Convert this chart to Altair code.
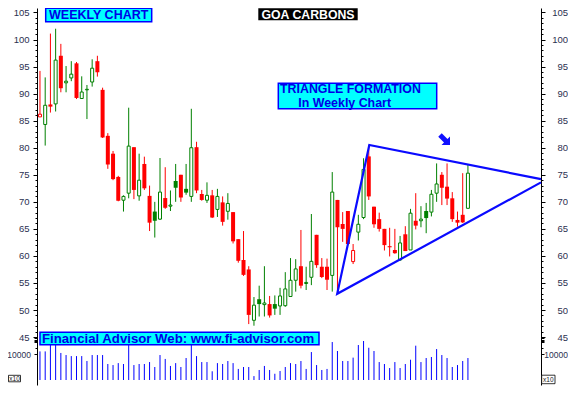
import altair as alt
import pandas as pd

# ---- weekly candles (weeks ending 26 Oct 2012 ... 16 May 2014) ----
week_open = [85.7, 84.3, 88.0, 88.1, 97.0, 92.0, 92.9, 95.6, 89.1, 90.7,
             92.15, 96.0, 90.7, 82.2, 78.9, 74.6, 70.3, 71.6, 80.1, 71.1,
             77.0, 71.1, 68.2, 66.8, 70.7, 69.2, 73.85, 75.0, 72.4, 71.0,
             80.1, 71.45, 70.3, 71.2, 68.6, 69.9, 68.25, 68.1, 63.1, 59.25,
             57.5, 48.1, 52.0, 51.0, 51.1, 51.1, 50.75, 50.8, 52.5, 55.5,
             58.1, 54.9, 56.05, 63.9, 58.0, 58.0, 56.4, 70.35, 65.9, 68.3,
             58.95, 64.4, 67.1, 78.4, 69.1, 66.8, 65.0, 61.8, 61.1, 59.25,
             64.0, 61.1, 66.5, 66.5, 68.3, 68.1, 71.6, 75.0, 72.8, 70.65,
             66.65, 67.6, 68.8]
week_high = [94.2, 93.0, 101.1, 102.0, 99.2, 95.1, 96.0, 95.85, 93.2, 91.6,
             96.35, 97.0, 91.1, 82.7, 79.4, 74.8, 71.2, 87.4, 80.1, 78.9,
             78.35, 73.0, 70.0, 78.1, 76.4, 72.1, 77.0, 75.0, 77.0, 87.2,
             81.1, 72.2, 73.6, 72.2, 72.4, 71.0, 71.6, 68.1, 63.1, 64.6,
             58.1, 52.4, 54.5, 58.1, 52.6, 52.7, 54.1, 57.0, 59.6, 59.4,
             64.8, 58.0, 67.75, 63.9, 59.6, 59.5, 75.5, 70.35, 68.1, 68.3,
             62.2, 67.6, 78.05, 80.5, 69.1, 68.0, 65.0, 65.2, 65.0, 63.7,
             65.5, 68.7, 71.6, 69.2, 69.8, 72.2, 77.1, 75.5, 77.1, 71.8,
             68.2, 75.3, 76.9]
week_low = [85.7, 80.4, 86.5, 86.7, 90.25, 90.25, 92.3, 89.0, 89.1, 85.3,
            91.3, 93.15, 81.8, 76.1, 74.0, 70.1, 68.2, 70.65, 70.5, 70.2,
            72.2, 64.6, 63.4, 66.65, 68.7, 68.3, 70.0, 70.0, 71.3, 70.0,
            71.6, 70.2, 69.8, 67.0, 67.2, 65.6, 66.7, 62.3, 58.75, 56.3,
            47.4, 47.1, 48.8, 48.8, 48.6, 49.1, 49.1, 50.6, 52.5, 53.4,
            54.0, 53.7, 54.6, 57.8, 55.9, 53.7, 53.4, 53.4, 62.6, 62.0,
            58.5, 62.85, 66.8, 70.35, 65.2, 64.5, 61.0, 59.9, 60.4, 59.1,
            60.9, 61.1, 64.9, 65.3, 64.2, 67.3, 70.0, 69.4, 69.4, 66.3,
            65.4, 66.1, 68.8]
week_close = [86.2, 87.85, 87.6, 96.2, 91.0, 92.3, 93.6, 89.2, 90.3, 90.8,
              94.7, 93.95, 81.9, 76.9, 74.2, 70.2, 71.0, 80.3, 72.2, 74.0,
              72.5, 66.15, 66.5, 71.8, 68.9, 69.4, 72.6, 70.8, 71.7, 80.0,
              72.1, 70.35, 71.2, 67.1, 71.0, 66.3, 69.7, 62.7, 59.1, 56.5,
              49.1, 50.9, 51.1, 51.3, 49.0, 50.25, 52.6, 53.9, 55.5, 57.6,
              54.5, 55.1, 59.0, 58.3, 56.1, 55.6, 71.8, 65.3, 65.0, 62.2,
              61.0, 65.85, 76.0, 71.0, 65.85, 65.0, 62.0, 61.6, 60.5, 62.4,
              60.9, 67.9, 65.6, 66.8, 67.0, 71.4, 73.3, 72.6, 70.6, 66.8,
              66.15, 66.2, 75.3]
# g = week closed up on previous week, r = down
week_dir = list("rgrgrggrgg" "grrrrrggrg" "rrggrggrgg" "rrgrgrgrrr" "rgggrggggg"
                "rggrrrgrrr" "rggrrrrrrg" "rgrggggrrr" "rrg")
week_volume = [11000, 11000, 14600, 14600, 10400, 9600, 9200, 9200, 9200, 7300,
               9600, 9600, 9600, 6150, 5750, 6500, 6150, 13450, 5750, 6150,
               6150, 6900, 5000, 9600, 8100, 5400, 6500, 5000, 8450, 14600,
               9200, 6900, 6900, 3350, 6500, 6150, 7300, 6500, 4250, 5000,
               5000, 1500, 3850, 5400, 3850, 2400, 3450, 5000, 6500, 6150,
               7300, 4250, 10750, 5750, 3850, 4250, 14600, 11150, 7300, 7300,
               8600, 13450, 15000, 12400, 11150, 6900, 6150, 4600, 6900, 4600,
               6150, 7800, 13200, 6900, 8450, 8850, 11900, 9600, 8450, 5000,
               5750, 7300, 8450]

# month separators (bar slot of first week of month)
month_pos = [2, 7, 11, 19, 24, 28, 33, 37, 41, 46, 50, 54, 59, 63, 68, 72, 76, 80, 85, 89, 94.5]
month_lab = ["Nov", "Dec", "2013", "Mar", "Apr", "May", "Jun", "Jul", "Aug", "Sep", "Oct",
             "Nov", "Dec", "2014", "Feb", "Mar", "Apr", "May", "Jun", "Jul", "Aug"]

# triangle trend lines (bar slot, price)
tri_idx = [97.0, 57.95, 64.1, 97.0]
tri_price = [73.6, 53.0, 80.5, 74.2]

price_ticks = list(range(43, 107))
vol_ticks = [10000, 14500, 15000, 15500, 16000, 16500]

title_txt = "GOA CARBONS"
weekly_txt = "WEEKLY CHART"
tri_txt1 = "TRIANGLE FORMATION"
tri_txt2 = "In Weekly Chart"
web_txt = "Financial Advisor Web: www.fi-advisor.com"
unit_txt = "x10"

# ---- tables ----
df = pd.DataFrame({"open": week_open, "high": week_high, "low": week_low,
                   "close": week_close, "dir": week_dir, "vol": week_volume})
df["idx"] = range(1, len(df) + 1)
df["hollow"] = df["close"] > df["open"]
df["zero"] = 0
tri_df = pd.DataFrame({"idx": tri_idx, "price": tri_price, "ord": range(len(tri_idx))})

X_DOM = [0.43, 97.0]
P_DOM = [36.14, 105.83]
V_DOM = [-1923, 143077]

xscale = alt.Scale(domain=X_DOM, nice=False, zero=False, padding=0)
pscale = alt.Scale(domain=P_DOM, nice=False, zero=False)
vscale = alt.Scale(domain=V_DOM, nice=False, zero=False)
cscale = alt.Scale(domain=["g", "r"], range=["#008000", "#ff0000"])

LABEL = "#2b3050"
FONT = "Liberation Sans"
common = dict(grid=False, title=None, domainColor="black", tickColor="black",
              labelColor=LABEL, labelFont=FONT, labelFontSize=9.5,
              labelOverlap=False, labelFlush=False, domainWidth=1, tickWidth=1)
tick_cond = {"condition": {"test": "datum.value % 5 === 0", "value": 4}, "value": 2}
p_expr = "datum.value % 5 === 0 ? datum.label : ''"

price_left = alt.Axis(orient="left", values=price_ticks, labelExpr=p_expr,
                      tickSize=tick_cond, labelPadding=4, **common)
price_right = alt.Axis(orient="right", values=price_ticks, labelExpr=p_expr,
                       tickSize=tick_cond, labelPadding=22.5, labelAlign="right", **common)

m_expr = ("[" + ",".join("'%s'" % m for m in month_lab) + "][indexof(["
          + ",".join(str(p) for p in month_pos) + "], datum.value)]")
month_axis = alt.Axis(orient="bottom", values=month_pos, labelExpr=m_expr, tickSize=13,
                      labelPadding=-9, labelAlign="left", labelBaseline="top",
                      labelOffset=2, **common)

v_common = dict(common)
v_common["labelFontSize"] = 8.5
v_expr = "datum.value === 10000 ? '10000' : ''"
vol_left_axis = alt.Axis(orient="left", values=vol_ticks, labelExpr=v_expr, domain=False,
                         tickSize=3, labelPadding=3.5, **v_common)
vol_right_axis = alt.Axis(orient="right", values=vol_ticks, labelExpr=v_expr, domain=False,
                          tickSize=3, labelPadding=23.5, labelAlign="right", **v_common)

# ---- price pane ----
wicks = alt.Chart(df).mark_rule(strokeWidth=1).encode(
    x=alt.X("idx:Q", scale=xscale, axis=month_axis),
    y=alt.Y("low:Q", scale=pscale, axis=price_left),
    y2="high:Q",
    color=alt.Color("dir:N", scale=cscale, legend=None),
)
filled = alt.Chart(df).transform_filter("!datum.hollow").mark_bar(size=4).encode(
    x=alt.X("idx:Q", scale=xscale, axis=None),
    y=alt.Y("open:Q", scale=pscale, axis=price_right),
    y2="close:Q",
    color=alt.Color("dir:N", scale=cscale, legend=None),
)
hollow = alt.Chart(df).transform_filter("datum.hollow").mark_bar(
    size=3, fill="white", strokeWidth=1).encode(
    x=alt.X("idx:Q", scale=xscale, axis=None),
    y=alt.Y("open:Q", scale=pscale, axis=None),
    y2="close:Q",
    stroke=alt.Stroke("dir:N", scale=cscale, legend=None),
)
tri = alt.Chart(tri_df).mark_line(color="#0a0aff", strokeWidth=2.2).encode(
    x=alt.X("idx:Q", scale=xscale, axis=None),
    y=alt.Y("price:Q", scale=pscale, axis=None),
    order="ord:Q",
)
price_group = alt.layer(wicks, filled, hollow, tri).resolve_axis(y="independent")

# ---- volume pane ----
vol_l = alt.Chart(df).mark_rule(color="#0000ff", strokeWidth=1).encode(
    x=alt.X("idx:Q", scale=xscale, axis=None),
    y=alt.Y("vol:Q", scale=vscale, axis=vol_left_axis),
    y2="zero:Q",
)
vol_r = alt.Chart(df).mark_rule(color="#0000ff", strokeWidth=1, opacity=0).encode(
    x=alt.X("idx:Q", scale=xscale, axis=None),
    y=alt.Y("vol:Q", scale=vscale, axis=vol_right_axis),
    y2="zero:Q",
)
vol_group = alt.layer(vol_l, vol_r).resolve_axis(y="independent")

# ---- annotations ----
one = pd.DataFrame({"k": [0]})


def box(x1, x2, y1, y2, fill, stroke, sw):
    return alt.Chart(one).mark_rect(fill=fill, stroke=stroke, strokeWidth=sw).encode(
        x=alt.value(x1), x2=alt.value(x2), y=alt.value(y1), y2=alt.value(y2))


def label(txt, x, y, size, color, align="left", weight="bold"):
    return alt.Chart(pd.DataFrame({"t": [txt]})).mark_text(
        align=align, baseline="middle", font=FONT, fontSize=size,
        fontWeight=weight, color=color).encode(
        text="t:N", x=alt.value(x), y=alt.value(y))


BLUE = "#0000e6"
ARROW = "M-0.35,-1L0.35,-1L0.35,0.15L0.85,0.15L0,1L-0.85,0.15L-0.35,0.15Z"
arrow = alt.Chart(one).mark_point(shape=ARROW, filled=True, size=200, angle=315,
                                  color="#1010ff", opacity=1).encode(
    x=alt.value(408), y=alt.value(132))

notes = [
    box(8.7, 114.7, 0.3, 13.7, "#00ffff", "#0000ff", 1.5),
    label(weekly_txt, 61.7, 7.2, 12.5, BLUE, align="center"),
    box(221.3, 320.7, 0.3, 12.2, "black", "black", 0),
    label(title_txt, 271, 6.6, 12.3, "white", align="center"),
    box(241.3, 399.7, 75.3, 100.7, "#00ffff", "#0000ff", 1.5),
    label(tri_txt1, 243, 81.0, 12.4, BLUE),
    label(tri_txt2, 261.3, 94.7, 12.4, BLUE),
    box(3, 282, 324.3, 336.7, "#00ffff", "#0000ff", 1.5),
    label(web_txt, 5, 330.6, 13.2, BLUE),
    box(-28.5, -16.5, 367.3, 373.8, "white", "black", 0.8),
    label(unit_txt, -22.5, 370.6, 6.5, "#222222", align="center", weight="normal"),
    box(504.7, 518, 367.2, 375.7, "white", "black", 0.8),
    label(unit_txt, 511.3, 371.5, 6.5, "#222222", align="center", weight="normal"),
    arrow,
]

chart = alt.layer(price_group, vol_group, *notes).resolve_scale(y="independent").properties(
    width=504, height=377,
    padding={"left": 29, "top": 0, "right": 27, "bottom": 13},
    autosize=alt.AutoSizeParams(type="none"),
).configure_view(stroke=None)

chart.save("out.html", embed_options={"renderer": "svg", "actions": False})
